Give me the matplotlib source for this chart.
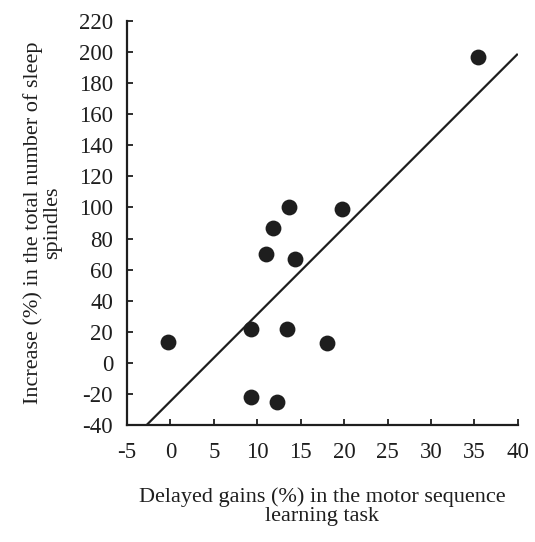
import matplotlib
matplotlib.use("Agg")
import matplotlib.pyplot as plt
import numpy as np

# Data
gains = [-0.3, 9.3, 9.3, 12.3, 13.4, 18.0, 13.6, 11.8, 11.0, 14.3, 19.8, 35.4]
spindles = [13.5, 22, -22, -25, 21.5, 12.5, 100, 87, 70, 67, 99, 196.5]
fit_slope = 5.59
fit_intercept = -24.7
fit_x = [-2.73, 39.9]

x_ticks = [-5, 0, 5, 10, 15, 20, 25, 30, 35, 40]
y_ticks = list(range(-40, 221, 20))

plt.rcParams['font.family'] = ['Liberation Serif', 'DejaVu Serif']
plt.rcParams['axes.unicode_minus'] = False

fig = plt.figure(figsize=(5.35, 5.42), dpi=100)
ax = fig.add_axes([0.2374, 0.2159, 0.968 - 0.2374, 0.9613 - 0.2159])

ax.scatter(gains, spindles, s=130, color='#1e1e1e', zorder=3, linewidths=0)
fx = np.array(fit_x)
ax.plot(fx, fit_slope * fx + fit_intercept, color='#1e1e1e', lw=1.6, zorder=2)

ax.set_xlim(-5, 40)
ax.set_ylim(-40, 220)
ax.set_xticks(x_ticks)
ax.set_yticks(y_ticks)
ax.spines['top'].set_visible(False)
ax.spines['right'].set_visible(False)
for s in ['left', 'bottom']:
    ax.spines[s].set_linewidth(1.6)
    ax.spines[s].set_color('#1e1e1e')
ax.tick_params(axis='both', direction='in', length=4, width=1.3, labelsize=16.5, colors='#1e1e1e')
ax.tick_params(axis='y', pad=10)
ax.tick_params(axis='x', pad=12)

ax.set_xlabel("Delayed gains (%) in the motor sequence\nlearning task", fontsize=16, linespacing=1.0, color='#1e1e1e')
ax.set_ylabel("Increase (%) in the total number of sleep\nspindles", fontsize=16, linespacing=1.0, color='#1e1e1e')
ax.xaxis.set_label_coords(0.5, -0.153)
ax.yaxis.set_label_coords(-0.166, 0.5)

fig.savefig("out.png", dpi=100)
